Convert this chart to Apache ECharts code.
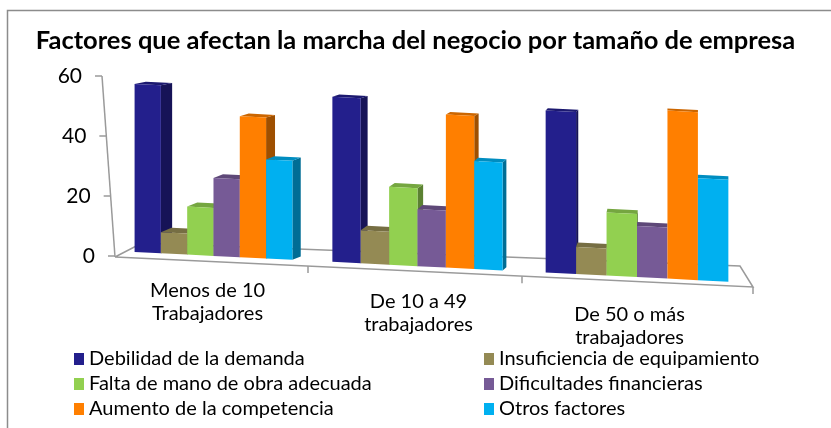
<!DOCTYPE html>
<html>
<head>
<meta charset="utf-8">
<script src="https://cdn.jsdelivr.net/npm/echarts@6/dist/echarts.min.js"></script>
<style>html,body{margin:0;padding:0;background:#fff}#c{width:831px;height:428px}</style>
</head>
<body>
<div id="c"></div>
<script>
const titleText = 'Factores que afectan la marcha del negocio por tamaño de empresa';
const categories = ['Menos de 10\nTrabajadores', 'De 10 a 49\ntrabajadores', 'De 50 o más\ntrabajadores'];
const seriesNames = ['Debilidad de la demanda', 'Insuficiencia de equipamiento', 'Falta de mano de obra adecuada', 'Dificultades financieras', 'Aumento de la competencia', 'Otros factores'];
const debilidad = [56, 55, 54];
const insuficiencia = [7, 11, 9];
const falta = [16, 26, 21];
const dificultades = [26, 19, 17];
const aumento = [47, 51, 56];
const otros = [33, 36, 34];
const yTicks = [0, 20, 40, 60];

const seriesValues = [debilidad, insuficiencia, falta, dificultades, aumento, otros];
const colors = ['#231f8c', '#948a54', '#92d050', '#765a96', '#ff7f00', '#00b0f0'];
const FONT = 'Lato, "Open Sans", sans-serif';

function shade(hex, f) {
  const n = parseInt(hex.slice(1), 16);
  const r = Math.round(((n >> 16) & 255) * f), g = Math.round(((n >> 8) & 255) * f), b = Math.round((n & 255) * f);
  return 'rgb(' + r + ',' + g + ',' + b + ')';
}

function makeRender(si) {
  return function (params, api) {
    const cs = params.coordSys;
    const cat = api.value(0), v = api.value(1);
    const base = api.coord([cat, 0]);
    const topP = api.coord([cat, v]);
    const h = base[1] - topP[1];
    const band = api.size([1, 0])[0];
    // mild perspective on the horizontal direction
    const mid = cs.x + cs.width / 2;
    const u = base[0] - mid;
    const scaleX = 1.0036 + 2 * 0.000174 * u;
    const cx = mid - 1 + 1.0036 * u + 0.000174 * u * u;
    const w = band * 0.134 * scaleX;
    const x0 = cx + (si - 3) * w;
    const x1 = x0 + w;
    const k = 0.05;
    const fx = cs.x + 13;
    const by = function (x) { return base[1] + (x - fx) * k - 5; };
    const vp = cs.x + cs.width * 0.88;
    const dx = Math.max(0, (vp - (x0 + x1) / 2) * 0.022);
    const dy = 2 + (60 - v) * 0.05;
    const col = colors[si];
    const b0 = by(x0), b1 = by(x1);
    const t0 = b0 - h, t1 = b1 - h;
    const children = [];
    if (dx > 0.3) {
      children.push({ type: 'polygon', shape: { points: [[x1, t1], [x1 + dx, t1 - dy], [x1 + dx, b1 - dy], [x1, b1]] }, style: { fill: shade(col, 0.62) } });
    }
    children.push({ type: 'polygon', shape: { points: [[x0, t0], [x1, t1], [x1 + dx, t1 - dy], [x0 + dx, t0 - dy]] }, style: { fill: shade(col, 0.8) } });
    children.push({ type: 'polygon', shape: { points: [[x0, t0], [x1, t1], [x1, b1], [x0, b0]] }, style: { fill: col } });
    return { type: 'group', children: children };
  };
}

const chart = echarts.init(document.getElementById('c'), null, { renderer: 'canvas' });

const catLabelRich = { t: { fontFamily: FONT, fontSize: 20, color: '#000', lineHeight: 23, align: 'center' }, s1: { fontSize: 1, lineHeight: 11 }, s2: { fontSize: 1, lineHeight: 24 } };

const yRich = {};
yTicks.forEach(function (t) { yRich['v' + t] = { fontFamily: FONT, fontSize: 21, color: '#000', padding: [0, (t / 60) * 13, 0, 0] }; });

const legendText = { fontFamily: FONT, fontSize: 20, color: '#000', lineHeight: 22 };

chart.setOption({
  animation: false,
  backgroundColor: '#fff',
  title: { text: titleText, left: 'center', top: 28, padding: 0, textStyle: { fontFamily: FONT, fontWeight: 'bold', fontSize: 25.5, color: '#000' } },
  grid: { left: 102, right: 96, top: 76, bottom: 172, containLabel: false },
  legend: [
    { orient: 'vertical', left: 74, top: 348, padding: 0, itemWidth: 10, itemHeight: 12, itemGap: 3, icon: 'rect', data: [seriesNames[0], seriesNames[2], seriesNames[4]], textStyle: legendText },
    { orient: 'vertical', left: 484, top: 348, padding: 0, itemWidth: 10, itemHeight: 12, itemGap: 3, icon: 'rect', data: [seriesNames[1], seriesNames[3], seriesNames[5]], textStyle: legendText }
  ],
  xAxis: {
    type: 'category', data: categories,
    axisLine: { show: false }, axisTick: { show: false },
    axisLabel: {
      margin: 23, interval: 0,
      formatter: function (val, idx) {
        const lines = val.split('\n').map(function (l) { return '{t|' + l + '}'; }).join('\n');
        if (idx === 1) return '{s1| }\n' + lines;
        if (idx === 2) return '{s2| }\n' + lines;
        return lines;
      },
      rich: catLabelRich
    }
  },
  yAxis: {
    type: 'value', min: 0, max: 60, interval: 20,
    axisLine: { show: false }, axisTick: { show: false }, splitLine: { show: false },
    axisLabel: { margin: 7, formatter: function (v) { return '{v' + v + '|' + v + '}'; }, rich: yRich }
  },
  series: seriesValues.map(function (vals, si) {
    return {
      type: 'custom', name: seriesNames[si], coordinateSystem: 'cartesian2d',
      itemStyle: { color: colors[si] },
      encode: { x: 0, y: 1 },
      data: vals.map(function (v, i) { return [i, v]; }),
      renderItem: makeRender(si)
    };
  })
});

// Decorative 3D floor, axis line and ticks derived from the grid
(function () {
  const zy = chart.convertToPixel({ yAxisIndex: 0 }, 0);
  const ty = chart.convertToPixel({ yAxisIndex: 0 }, 60);
  const gx = 102, gw = 831 - 96 - 102;
  const band = gw / categories.length;
  const lc = '#9a9a9a';
  const FL = [gx + 13, zy + 1], BL = [gx + 40, zy - 13], BR = [gx + gw + 5, zy + 10], FR = [gx + gw + 18, zy + 31];
  const frontY = function (x) { return FL[1] + (x - FL[0]) * (FR[1] - FL[1]) / (FR[0] - FL[0]); };
  const axX = function (v) { return gx + (60 - v) / 60 * 13; };
  const g = [];
  g.push({ type: 'rect', shape: { x: 7.5, y: 10.5, width: 900, height: 500 }, style: { fill: 'none', stroke: '#8c8c8c', lineWidth: 1.5 }, z: 0 });
  g.push({ type: 'polyline', shape: { points: [FL, BL, BR, FR, FL] }, style: { stroke: lc, lineWidth: 1.5, fill: 'none' }, z: 1 });
  g.push({ type: 'line', shape: { x1: axX(60), y1: ty, x2: axX(0), y2: zy + 1 }, style: { stroke: lc, lineWidth: 1.5 }, z: 1 });
  yTicks.forEach(function (t) {
    const y = chart.convertToPixel({ yAxisIndex: 0 }, t);
    g.push({ type: 'line', shape: { x1: axX(t) - 7, y1: y, x2: axX(t), y2: y }, style: { stroke: lc, lineWidth: 1.5 }, z: 1 });
  });
  const tickXs = [gx + band * 1 - 5, gx + band * 2 - 2, FR[0]];
  tickXs.forEach(function (x) {
    const y = frontY(x);
    g.push({ type: 'line', shape: { x1: x, y1: y, x2: x, y2: y + 7 }, style: { stroke: lc, lineWidth: 1.5 }, z: 1 });
  });
  chart.setOption({ graphic: { elements: g } });
})();
</script>
</body>
</html>
